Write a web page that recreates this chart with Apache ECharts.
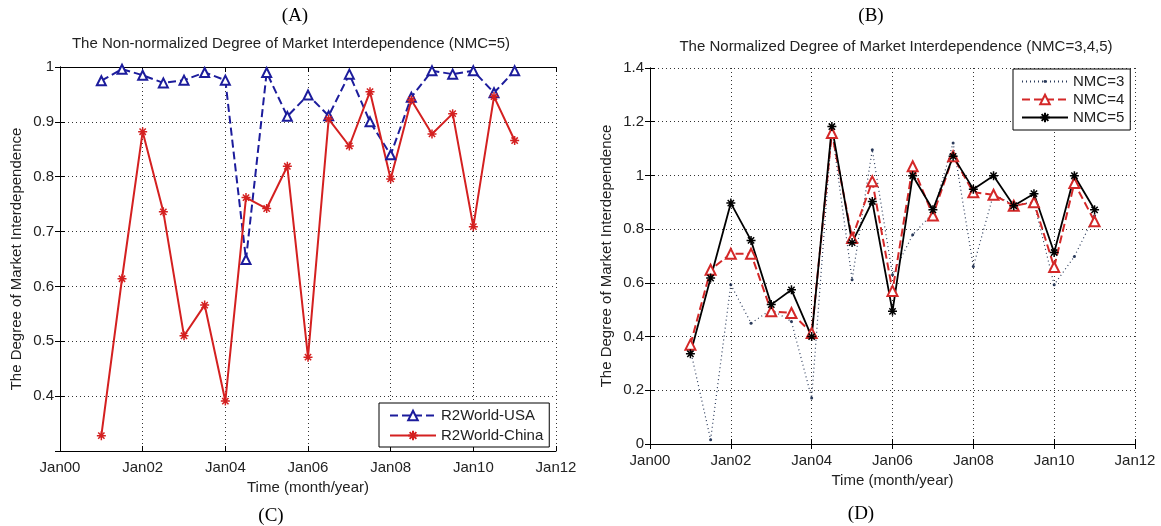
<!DOCTYPE html>
<html>
<head>
<meta charset="utf-8">
<script src="https://cdn.jsdelivr.net/npm/echarts@6/dist/echarts.min.js"></script>
<style>
html, body { margin: 0; background: #fff; }
#chart { width: 1161px; height: 526px; }
</style>
</head>
<body>
<div id="chart"></div>
<script>
// half-year sample points
var months = ['Jan01', 'Jul01', 'Jan02', 'Jul02', 'Jan03', 'Jul03', 'Jan04', 'Jul04',
    'Jan05', 'Jul05', 'Jan06', 'Jul06', 'Jan07', 'Jul07', 'Jan08', 'Jul08',
    'Jan09', 'Jul09', 'Jan10', 'Jul10', 'Jan11'];
var xTickLabels = ['Jan00', 'Jan02', 'Jan04', 'Jan06', 'Jan08', 'Jan10', 'Jan12'];

// (A)/(C): non-normalized, NMC=5
var usa = [0.975, 0.996, 0.985, 0.971, 0.976, 0.990, 0.976, 0.649, 0.990, 0.910, 0.949,
    0.911, 0.987, 0.900, 0.840, 0.945, 0.993, 0.987, 0.993, 0.953, 0.993];
var china = [0.328, 0.614, 0.882, 0.736, 0.510, 0.566, 0.391, 0.762, 0.742, 0.819, 0.471,
    0.905, 0.856, 0.955, 0.796, 0.940, 0.878, 0.915, 0.709, 0.946, 0.866];

// (B)/(D): normalized, NMC=3,4,5
var nmc3 = [0.35, 0.016, 0.593, 0.450, 0.500, 0.456, 0.171, 1.170, 0.612, 1.096, 0.630,
    0.779, 0.860, 1.121, 0.661, 0.930, 0.890, 0.900, 0.593, 0.698, 0.850];
var nmc4 = [0.370, 0.649, 0.708, 0.708, 0.494, 0.488, 0.413, 1.158, 0.767, 0.978, 0.570,
    1.034, 0.851, 1.071, 0.937, 0.928, 0.887, 0.900, 0.659, 0.972, 0.829];
var nmc5 = [0.336, 0.618, 0.897, 0.758, 0.519, 0.574, 0.400, 1.182, 0.750, 0.903, 0.494,
    0.999, 0.872, 1.071, 0.949, 0.999, 0.887, 0.932, 0.713, 0.999, 0.872];

function toYear(m) {
    return +m.slice(3) + (m.slice(0, 3) === 'Jul' ? 0.5 : 0);
}
function pairs(vals) {
    return months.map(function (m, i) { return [toYear(m), vals[i]]; });
}

var chartDom = document.getElementById('chart');
var myChart = echarts.init(chartDom);
var font = 'Liberation Sans, Arial, sans-serif';
var serif = 'Liberation Serif, serif';
var star = 'path://M0,-10L0,10M-10,0L10,0M-7,-7L7,7M-7,7L7,-7';
// small dot inside a wider (empty) box so the legend icon stays tiny
var dot = 'path://M-10,-10L-10,-10M10,10L10,10M-3,0A3,3 0 1,0 3,0A3,3 0 1,0 -3,0Z';
var dotted = { type: [1, 3], color: '#333', width: 1 };

function xAxes(gi) {
    return [{
        gridIndex: gi, type: 'value', min: 0, max: 12, interval: 2,
        name: 'Time (month/year)', nameLocation: 'middle', nameGap: 29,
        nameTextStyle: { fontFamily: font, fontSize: 15, color: '#222' },
        axisLine: { lineStyle: { color: '#000' } },
        axisTick: { inside: true, length: 5, lineStyle: { color: '#000' } },
        axisLabel: { fontFamily: font, fontSize: 15, color: '#222', margin: 9,
            formatter: function (v) { return xTickLabels[Math.round(v / 2)]; } },
        splitLine: { show: true, lineStyle: dotted }
    }, {
        gridIndex: gi, type: 'value', min: 0, max: 12, interval: 2, position: 'top',
        axisLine: { lineStyle: { color: '#000' } },
        axisTick: { inside: true, length: 5, lineStyle: { color: '#000' } },
        axisLabel: { show: false }, splitLine: { show: false }
    }];
}
function yAxes(gi, min, max, step, gap) {
    return [{
        gridIndex: gi, type: 'value', min: min, max: max, interval: step,
        name: 'The Degree of Market Interdependence', nameLocation: 'middle', nameGap: gap,
        nameTextStyle: { fontFamily: font, fontSize: 15, color: '#222' },
        axisLine: { show: true, lineStyle: { color: '#000' } },
        axisTick: { show: true, inside: true, length: 5, lineStyle: { color: '#000' } },
        axisLabel: { fontFamily: font, fontSize: 15, color: '#222', margin: 6,
            showMinLabel: gi === 1 },
        splitLine: { show: true, lineStyle: dotted }
    }, {
        gridIndex: gi, type: 'value', min: min, max: max, interval: step, position: 'right',
        axisLine: { show: true, lineStyle: { color: '#000' } },
        axisTick: { show: true, inside: true, length: 5, lineStyle: { color: '#000' } },
        axisLabel: { show: false }, splitLine: { show: false }
    }];
}
function letter(t, x, y) {
    return { text: t, left: x, top: y, textAlign: 'center',
        textStyle: { fontFamily: serif, fontSize: 19, fontWeight: 'normal', color: '#000' } };
}

var option = {
    animation: false,
    backgroundColor: '#fff',
    title: [
        letter('(A)', 290, 2),
        letter('(B)', 866, 2),
        letter('(C)', 266, 502),
        letter('(D)', 856, 500),
        { text: 'The Non-normalized Degree of Market Interdependence (NMC=5)', left: 286, top: 31, textAlign: 'center',
          textStyle: { fontFamily: font, fontSize: 15, fontWeight: 'normal', color: '#222' } },
        { text: 'The Normalized Degree of Market Interdependence (NMC=3,4,5)', left: 891, top: 34, textAlign: 'center',
          textStyle: { fontFamily: font, fontSize: 15, fontWeight: 'normal', color: '#222' } }
    ],
    grid: [
        { left: 60, top: 67, width: 496, height: 384 },
        { left: 650, top: 68, width: 485, height: 376 }
    ],
    xAxis: xAxes(0).concat(xAxes(1)),
    yAxis: yAxes(0, 0.3, 1, 0.1, 36).concat(yAxes(1, 0, 1.4, 0.2, 36)),
    legend: [
        { data: ['R2World-USA', 'R2World-China'], orient: 'vertical', left: 379, top: 403,
          padding: [5, 6, 4, 10], itemGap: 5, itemWidth: 46, itemHeight: 12,
          borderColor: '#000', borderWidth: 1, borderRadius: 0, backgroundColor: '#fff',
          textStyle: { fontFamily: font, fontSize: 15, color: '#222' } },
        { data: ['NMC=3', 'NMC=4', 'NMC=5'], orient: 'vertical', left: 1013, top: 69,
          padding: [5, 6, 5, 8], itemGap: 3, itemWidth: 46, itemHeight: 12,
          borderColor: '#000', borderWidth: 1, borderRadius: 0, backgroundColor: '#fff',
          textStyle: { fontFamily: font, fontSize: 15, color: '#222' } }
    ],
    series: [
        { name: 'R2World-USA', type: 'line', xAxisIndex: 0, yAxisIndex: 0, data: pairs(usa),
          symbol: 'emptyTriangle', symbolSize: 9,
          lineStyle: { color: '#1c1c9c', width: 2, type: [8, 4] },
          itemStyle: { color: '#1c1c9c', borderWidth: 1.5 } },
        { name: 'R2World-China', type: 'line', xAxisIndex: 0, yAxisIndex: 0, data: pairs(china),
          symbol: star, symbolSize: 9,
          lineStyle: { color: '#d42020', width: 2 },
          itemStyle: { color: '#d42020', borderColor: '#d42020', borderWidth: 1.5 } },
        { name: 'NMC=3', type: 'line', xAxisIndex: 2, yAxisIndex: 2, data: pairs(nmc3),
          symbol: dot, symbolSize: 10,
          lineStyle: { color: '#2a3a5a', width: 1.2, type: [1, 3] },
          itemStyle: { color: '#2a3a5a' } },
        { name: 'NMC=4', type: 'line', xAxisIndex: 2, yAxisIndex: 2, data: pairs(nmc4),
          symbol: 'emptyTriangle', symbolSize: 10,
          lineStyle: { color: '#d42828', width: 2, type: [8, 4] },
          itemStyle: { color: '#d42828', borderWidth: 1.5 } },
        { name: 'NMC=5', type: 'line', xAxisIndex: 2, yAxisIndex: 2, data: pairs(nmc5),
          symbol: star, symbolSize: 9,
          lineStyle: { color: '#000', width: 1.8 },
          itemStyle: { color: '#000', borderColor: '#000', borderWidth: 1.5 } }
    ]
};

option && myChart.setOption(option);
</script>
</body>
</html>
